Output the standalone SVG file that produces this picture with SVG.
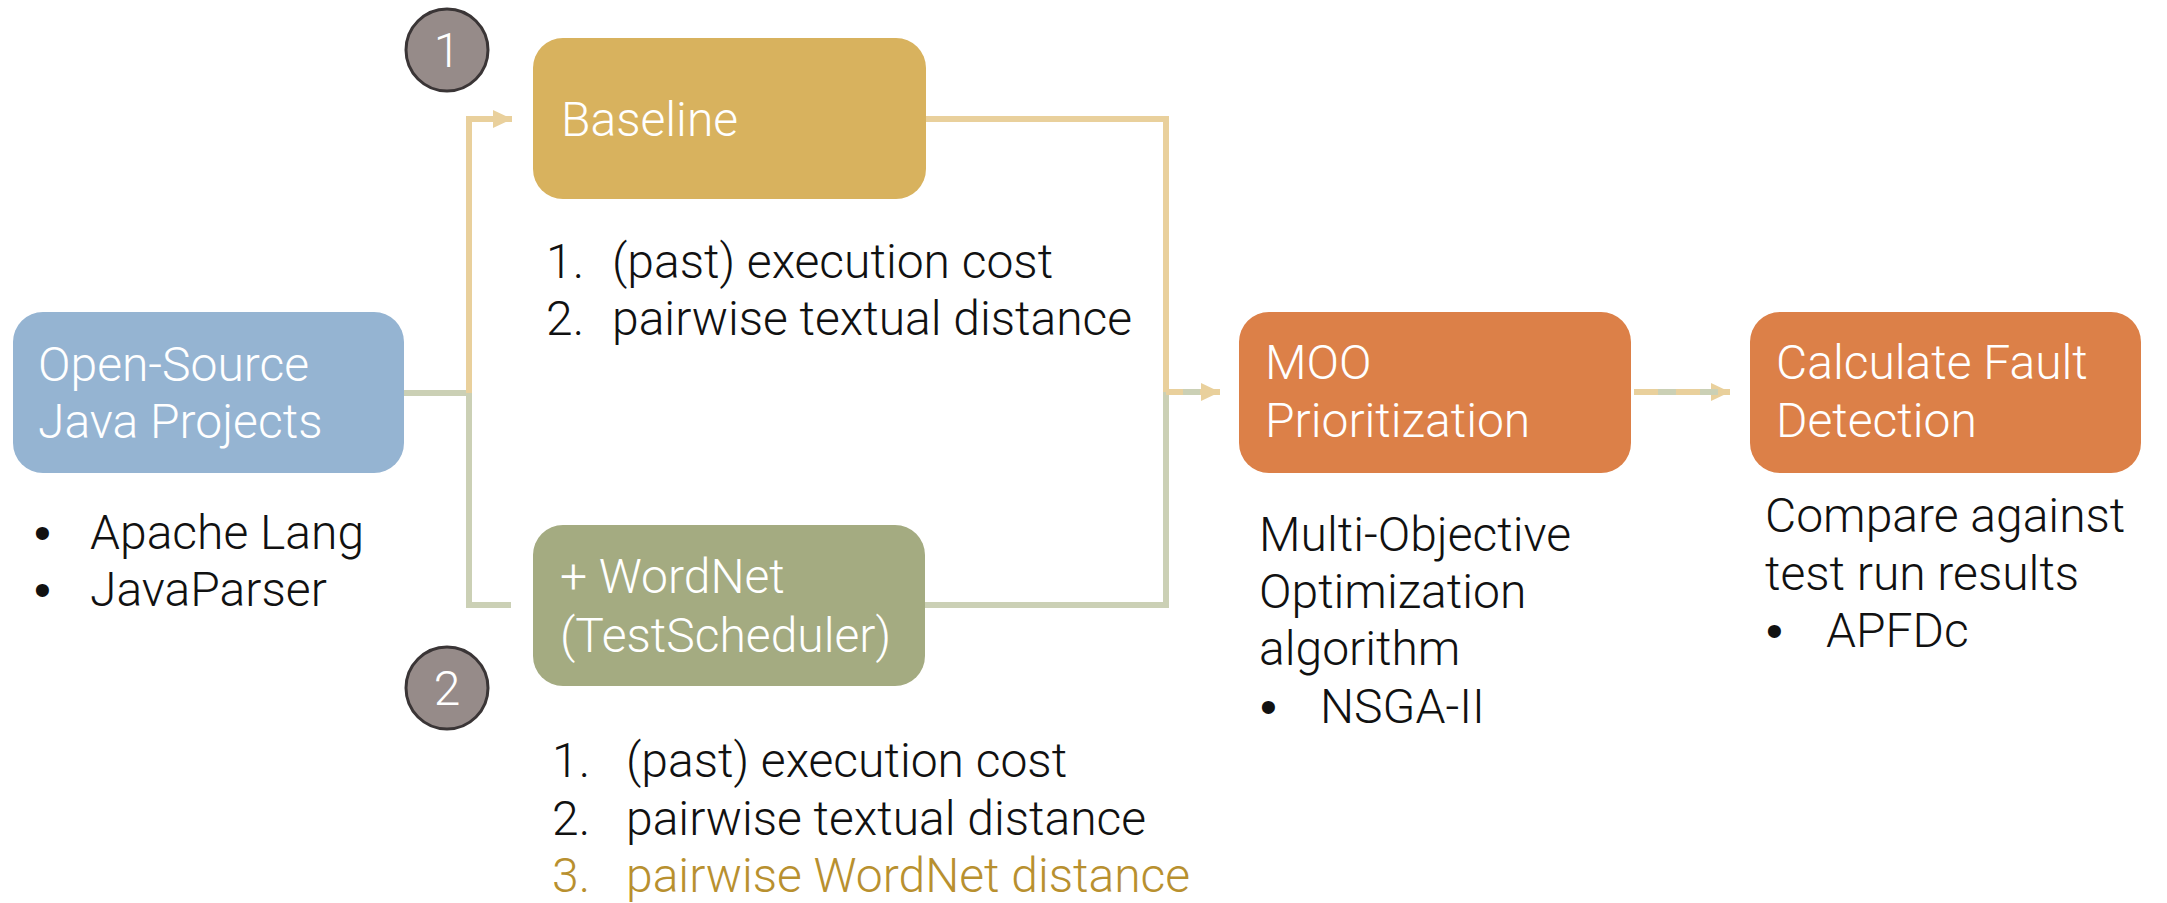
<svg xmlns="http://www.w3.org/2000/svg" width="2167" height="903" viewBox="0 0 2167 903">
<style>
text{font-family:Roboto,"Liberation Sans",Arial,sans-serif;font-weight:300;font-size:48px;}
text.b{font-family:"Liberation Sans",Arial,sans-serif;font-weight:400;}
.w{fill:#ffffff;}
.k{fill:#111111;}
.g{fill:#B8902F;}
.tan{stroke:#E9D09C;stroke-width:6;fill:none;}
.grn{stroke:#CBD0B5;stroke-width:6;fill:none;}
.num{fill:#968B89;stroke:#3A3536;stroke-width:3;}
</style>
<defs>
<marker id="ahT" viewBox="0 0 19 18" refX="19" refY="9" markerWidth="19" markerHeight="18" markerUnits="userSpaceOnUse" orient="auto"><path d="M0,0 L19,9 L0,18 Z" fill="#E9D09C"/></marker>
</defs>
<rect width="2167" height="903" fill="#ffffff"/>
<g id="connectors">
<path class="grn" d="M404,393 H469 V605 H511"/>
<path class="grn" d="M925,605 H1166 V392"/>
<path class="tan" d="M469,393 V119 H512" marker-end="url(#ahT)"/>
<path class="tan" d="M926,119 H1166 V392"/>
<path class="tan" d="M1166,392 H1220" marker-end="url(#ahT)"/>
<path class="grn" d="M1183,392 H1200"/>
<path class="tan" d="M1634,392 H1730" marker-end="url(#ahT)"/>
<path class="grn" d="M1658,392 H1676 M1700,392 H1718"/>
</g>
<g id="open-source">
<rect x="13" y="312" width="391" height="161" rx="30" fill="#95B4D2"/>
<text class="w" x="38" y="381">Open-Source</text>
<text class="w" x="38" y="438">Java Projects</text>
</g>
<g id="projects-list">
<text class="k b" x="34" y="549">•</text><text class="k" x="90" y="549">Apache Lang</text>
<text class="k b" x="34" y="606">•</text><text class="k" x="90" y="606">JavaParser</text>
</g>
<g id="baseline">
<rect x="533" y="38" width="393" height="161" rx="30" fill="#D8B25E"/>
<text class="w" x="561" y="136">Baseline</text>
</g>
<g id="badge-1">
<circle class="num" cx="447" cy="50" r="41"/>
<text class="w" x="447" y="67" text-anchor="middle" font-size="46">1</text>
</g>
<g id="baseline-list">
<text class="k" x="546" y="278">1.</text><text class="k" x="612" y="278">(past) execution cost</text>
<text class="k" x="546" y="335">2.</text><text class="k" x="612" y="335">pairwise textual distance</text>
</g>
<g id="wordnet">
<rect x="533" y="525" width="392" height="161" rx="30" fill="#A4AB81"/>
<text class="w" x="560" y="593">+ WordNet</text>
<text class="w" x="560" y="652">(TestScheduler)</text>
</g>
<g id="badge-2">
<circle class="num" cx="447" cy="688" r="41"/>
<text class="w" x="447" y="705" text-anchor="middle" font-size="46">2</text>
</g>
<g id="wordnet-list">
<text class="k" x="552" y="777">1.</text><text class="k" x="626" y="777">(past) execution cost</text>
<text class="k" x="552" y="835">2.</text><text class="k" x="626" y="835">pairwise textual distance</text>
<text class="g" x="552" y="892">3.</text><text class="g" x="626" y="892">pairwise WordNet distance</text>
</g>
<g id="moo">
<rect x="1239" y="312" width="392" height="161" rx="30" fill="#DC8048"/>
<text class="w" x="1265" y="379">MOO</text>
<text class="w" x="1265" y="437">Prioritization</text>
</g>
<g id="moo-desc">
<text class="k" x="1259" y="551">Multi-Objective</text>
<text class="k" x="1259" y="608">Optimization</text>
<text class="k" x="1259" y="665">algorithm</text>
<text class="k b" x="1260" y="723">•</text><text class="k" x="1320" y="723">NSGA-II</text>
</g>
<g id="fault">
<rect x="1750" y="312" width="391" height="161" rx="30" fill="#DC8048"/>
<text class="w" x="1776" y="379">Calculate Fault</text>
<text class="w" x="1776" y="437">Detection</text>
</g>
<g id="fault-desc">
<text class="k" x="1765" y="532">Compare against</text>
<text class="k" x="1765" y="590">test run results</text>
<text class="k b" x="1766" y="647">•</text><text class="k" x="1826" y="647">APFDc</text>
</g>
</svg>
